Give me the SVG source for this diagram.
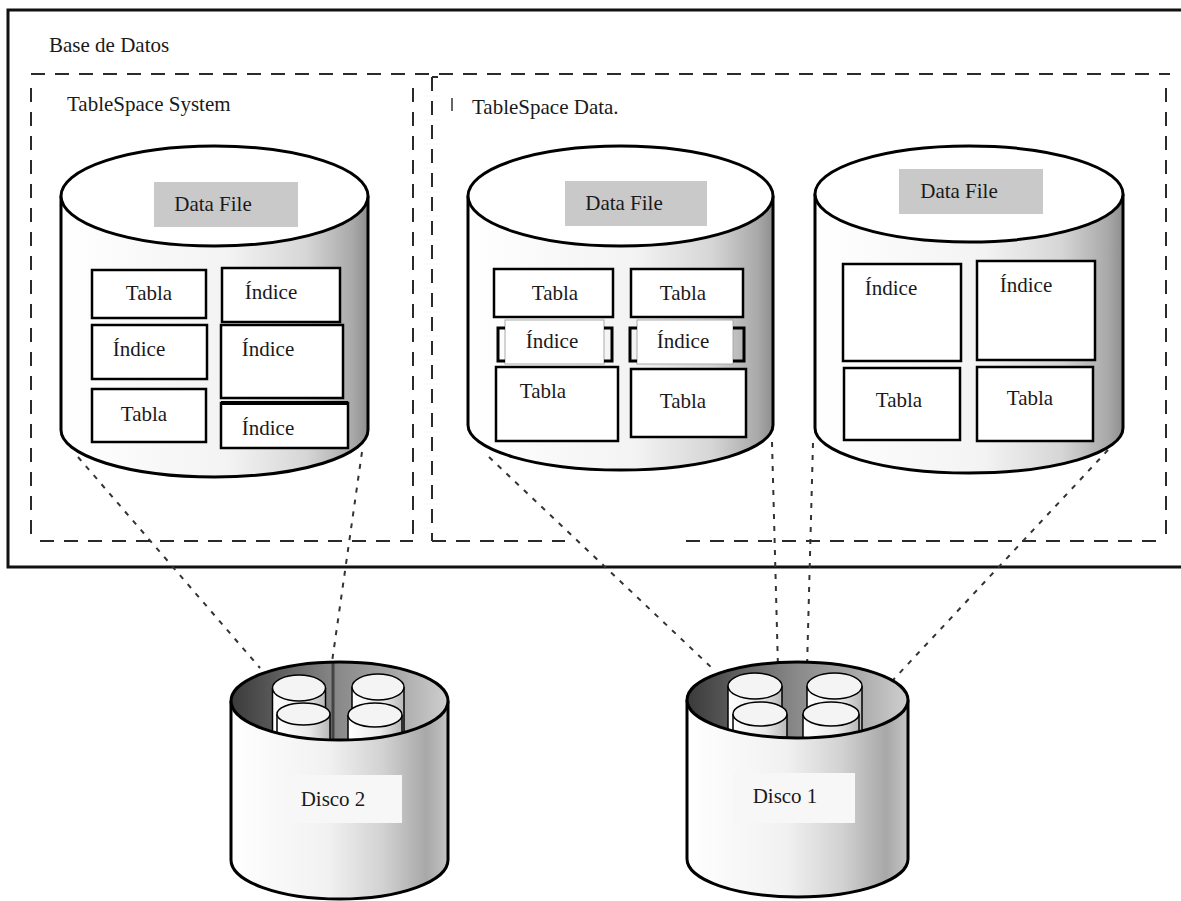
<svg xmlns="http://www.w3.org/2000/svg" width="1181" height="901" viewBox="0 0 1181 901" font-family="'Liberation Serif', 'Times New Roman', 'DejaVu Serif', serif">
<style>
text{font-family:'Liberation Serif','Times New Roman','DejaVu Serif',serif;font-size:21px;fill:#1a1a1a}
.m{text-anchor:middle}
.dash{fill:none;stroke:#2a2a2a;stroke-width:2;stroke-dasharray:14 10}
.dot{fill:none;stroke:#333;stroke-width:2;stroke-dasharray:5 7}
.body{fill:url(#cylG);stroke:#000;stroke-width:3}
.top{fill:#fff;stroke:#000;stroke-width:3}
.lbl{fill:#c9c9c9}
.box{fill:#fff;stroke:#000;stroke-width:2.5}
.thin{fill:#fff;stroke:#aaa;stroke-width:1}
.brk{fill:none;stroke:#000;stroke-width:3}
.dbody{fill:url(#diskG);stroke:#000;stroke-width:3}
.dtop{fill:url(#innerG);stroke:none}
.rim{fill:none;stroke:#000;stroke-width:3}
.sc{fill:url(#smallG);stroke:#000;stroke-width:1.5}
.sct{fill:#f4f4f4;stroke:#000;stroke-width:1.5}
.dlbl{fill:#f7f7f7}
</style>
<defs>
<linearGradient id="cylG" x1="0" y1="0" x2="1" y2="0">
<stop offset="0" stop-color="#ffffff"/>
<stop offset="0.55" stop-color="#f3f3f3"/>
<stop offset="0.8" stop-color="#d6d6d6"/>
<stop offset="0.95" stop-color="#a9a9a9"/>
<stop offset="1" stop-color="#8e8e8e"/>
</linearGradient>
<linearGradient id="diskG" x1="0" y1="0" x2="1" y2="0">
<stop offset="0" stop-color="#ffffff"/>
<stop offset="0.45" stop-color="#f1f1f1"/>
<stop offset="0.7" stop-color="#d2d2d2"/>
<stop offset="0.9" stop-color="#a8a8a8"/>
<stop offset="1" stop-color="#c4c4c4"/>
</linearGradient>
<linearGradient id="innerG" x1="0" y1="0" x2="1" y2="0">
<stop offset="0" stop-color="#3a3a3a"/>
<stop offset="0.3" stop-color="#6a6a6a"/>
<stop offset="0.5" stop-color="#8a8a8a"/>
<stop offset="0.75" stop-color="#a6a6a6"/>
<stop offset="1" stop-color="#cfcfcf"/>
</linearGradient>
<linearGradient id="smallG" x1="0" y1="0" x2="1" y2="0">
<stop offset="0" stop-color="#ffffff"/>
<stop offset="0.6" stop-color="#e8e8e8"/>
<stop offset="1" stop-color="#b8b8b8"/>
</linearGradient>
<clipPath id="clip2"><ellipse cx="339.5" cy="701" rx="108.5" ry="39"/></clipPath>
<clipPath id="clip1"><ellipse cx="797.5" cy="700" rx="110.5" ry="38"/></clipPath>
</defs>
<rect width="1181" height="901" fill="#fff"/>

<g id="base-de-datos">
<path d="M1181,10 H8 V567 H1181" fill="none" stroke="#111" stroke-width="3"/>
<text x="49" y="52">Base de Datos</text>
</g>

<g id="tablespace-system">
<path class="dash" d="M31,74 H1170"/>
<path class="dash" d="M31,88 V541"/>
<path class="dash" d="M40,541 H413"/>
<path class="dash" d="M413,88 V541"/>
<text x="67" y="111">TableSpace System</text>
</g>

<g id="tablespace-data">
<path class="dash" d="M432,77 V541"/>
<path d="M432,77 H438" stroke="#2a2a2a" stroke-width="2"/>
<path class="dash" d="M432,541 H565"/>
<path class="dash" d="M686,541 H1166"/>
<path class="dash" d="M1166,88 V541"/>
<path d="M452,98 V111" stroke="#333" stroke-width="1.5"/>
<text x="472" y="114">TableSpace Data.</text>
</g>

<g id="connectors">
<path class="dot" d="M78,457 L260,668"/>
<path class="dot" d="M362,452 L332,662"/>
<path class="dot" d="M489,457 L712,668"/>
<path class="dot" d="M772,442 L778,668"/>
<path class="dot" d="M813,443 L806,706"/>
<path class="dot" d="M1108,450 L865,710"/>
</g>

<g id="datafile-1">
<path class="body" d="M61,196 V430 A153.5,47 0 0 0 368,430 V196"/>
<ellipse class="top" cx="214.5" cy="196" rx="153.5" ry="50"/>
<rect class="lbl" x="154" y="182" width="144" height="45"/>
<text class="m" x="213" y="211">Data File</text>
<rect class="box" x="92" y="270" width="114" height="48"/>
<text class="m" x="149" y="300">Tabla</text>
<rect class="box" x="222" y="268" width="118" height="54"/>
<text class="m" x="271" y="299">Índice</text>
<rect class="box" x="92" y="325" width="115" height="54"/>
<text class="m" x="139" y="356">Índice</text>
<rect class="box" x="221" y="325" width="122" height="73"/>
<text class="m" x="268" y="356">Índice</text>
<rect class="box" x="92" y="389" width="114" height="53"/>
<text class="m" x="144" y="421">Tabla</text>
<rect class="box" x="221" y="403" width="127" height="45"/>
<path d="M221,403 H348" stroke="#000" stroke-width="4"/>
<text class="m" x="268" y="435">Índice</text>
</g>

<g id="datafile-2">
<path class="body" d="M468,196 V425 A152.5,45 0 0 0 773,425 V196"/>
<ellipse class="top" cx="620.5" cy="196" rx="152.5" ry="50"/>
<rect class="lbl" x="565" y="181" width="142" height="45"/>
<text class="m" x="624" y="210">Data File</text>
<rect class="box" x="494" y="269" width="119" height="48"/>
<text class="m" x="555" y="300">Tabla</text>
<rect class="thin" x="505" y="320" width="99" height="44"/>
<path class="brk" d="M505,328 H498 V361 H505"/>
<path class="brk" d="M604,328 H612 V361 H604"/>
<text class="m" x="552" y="348">Índice</text>
<rect class="box" x="496" y="367" width="122" height="74"/>
<text class="m" x="543" y="398">Tabla</text>
<rect class="box" x="631" y="269" width="112" height="48"/>
<text class="m" x="683" y="300">Tabla</text>
<rect class="thin" x="637" y="320" width="96" height="44"/>
<path class="brk" d="M637,328 H630 V361 H637"/>
<path class="brk" d="M733,328 H744 V361 H733"/>
<text class="m" x="683" y="348">Índice</text>
<rect class="box" x="631" y="369" width="115" height="68"/>
<text class="m" x="683" y="408">Tabla</text>
</g>

<g id="datafile-3">
<path class="body" d="M815,194 V428 A154,45 0 0 0 1123,428 V194"/>
<ellipse class="top" cx="969" cy="194" rx="154" ry="48"/>
<rect class="lbl" x="899" y="169" width="144" height="45"/>
<text class="m" x="959" y="198">Data File</text>
<rect class="box" x="843" y="264" width="118" height="97"/>
<text class="m" x="891" y="295">Índice</text>
<rect class="box" x="977" y="261" width="118" height="99"/>
<text class="m" x="1026" y="292">Índice</text>
<rect class="box" x="844" y="368" width="116" height="72"/>
<text class="m" x="899" y="407">Tabla</text>
<rect class="box" x="977" y="367" width="116" height="74"/>
<text class="m" x="1030" y="405">Tabla</text>
</g>

<g id="disco-2">
<path class="dbody" d="M231,701 V860 A108.5,39 0 0 0 448,860 V701"/>
<ellipse class="dtop" cx="339.5" cy="701" rx="108.5" ry="39"/>
<g clip-path="url(#clip2)">
<path class="sc" d="M272.5,688 V760 H325.5 V688"/>
<ellipse class="sct" cx="299" cy="688" rx="26.5" ry="13"/>
<path class="sc" d="M352,687 V760 H404 V687"/>
<ellipse class="sct" cx="378" cy="687" rx="26" ry="13"/>
<path class="sc" d="M277,714 V760 H330 V714"/>
<ellipse class="sct" cx="303.5" cy="714" rx="26.5" ry="11"/>
<path class="sc" d="M348,715 V760 H402 V715"/>
<ellipse class="sct" cx="375" cy="715" rx="27" ry="12"/>
<path d="M333,660 V745" stroke="#444" stroke-width="3"/>
</g>
<ellipse class="rim" cx="339.5" cy="701" rx="108.5" ry="39"/>
<rect class="dlbl" x="283" y="775" width="119" height="48"/>
<text class="m" x="333" y="806">Disco 2</text>
</g>

<g id="disco-1">
<path class="dbody" d="M687,700 V859 A110.5,38 0 0 0 908,859 V700"/>
<ellipse class="dtop" cx="797.5" cy="700" rx="110.5" ry="38"/>
<g clip-path="url(#clip1)">
<path class="sc" d="M728,686 V760 H782 V686"/>
<ellipse class="sct" cx="755" cy="686" rx="27" ry="13"/>
<path class="sc" d="M807,686 V760 H862 V686"/>
<ellipse class="sct" cx="834.5" cy="686" rx="27.5" ry="13"/>
<path class="sc" d="M733,714 V760 H787 V714"/>
<ellipse class="sct" cx="760" cy="714" rx="27" ry="12"/>
<path class="sc" d="M803,714 V760 H859 V714"/>
<ellipse class="sct" cx="831" cy="714" rx="28" ry="12"/>
</g>
<ellipse class="rim" cx="797.5" cy="700" rx="110.5" ry="38"/>
<rect class="dlbl" x="733" y="773" width="122" height="50"/>
<text class="m" x="785" y="803">Disco 1</text>
</g>
</svg>
